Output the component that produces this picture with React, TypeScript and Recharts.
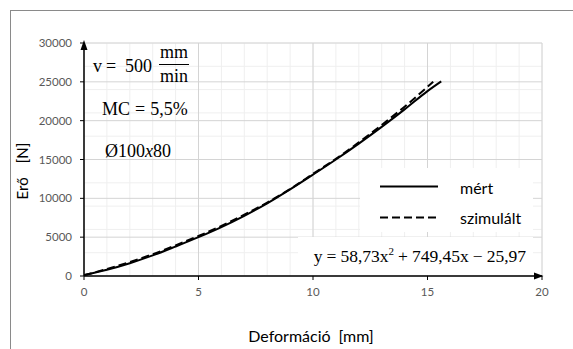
import React from 'react';
import { LineChart, Line, XAxis, YAxis, CartesianGrid, ReferenceDot } from 'recharts';

const mertX = [0, 1, 2, 3, 4, 5, 6, 7, 8, 9, 10, 11, 12, 13, 14, 15, 15.6];
const mertY = [120, 800, 1650, 2650, 3800, 5000, 6300, 7750, 9350, 11150, 13050, 15000, 17050, 19200, 21450, 23800, 25050];
const szimX = [0, 1, 2, 3, 4, 5, 6, 7, 8, 9, 10, 11, 12, 13, 14, 15, 15.25];
const szimY = [100, 900, 1800, 2800, 3950, 5150, 6450, 7900, 9450, 11200, 13150, 15100, 17200, 19450, 21800, 24350, 25000];

const xTicks = [0, 5, 10, 15, 20];
const yTicks = [0, 5000, 10000, 15000, 20000, 25000, 30000];
const xMinor = [0, 1, 2, 3, 4, 5, 6, 7, 8, 9, 10, 11, 12, 13, 14, 15, 16, 17, 18, 19, 20];
const yMinor = [0, 1000, 2000, 3000, 4000, 5000, 6000, 7000, 8000, 9000, 10000, 11000, 12000, 13000, 14000, 15000, 16000, 17000, 18000, 19000, 20000, 21000, 22000, 23000, 24000, 25000, 26000, 27000, 28000, 29000, 30000];

const seriesNames = ['mért', 'szimulált'];
const xLabel = 'Deformáció';
const xUnit = '[mm]';
const yLabel = 'Erő';
const yUnit = '[N]';

const mertData = mertX.map((x, i) => ({ x, y: mertY[i] }));
const szimData = szimX.map((x, i) => ({ x, y: szimY[i] }));

const sans = 'Lato, "Open Sans", sans-serif';
const serif = '"Liberation Serif", "DejaVu Serif", serif';

const YArrow = (p: any) => (
  <path d={`M${p.cx},${p.cy - 3} L${p.cx - 3.5},${p.cy + 7} L${p.cx + 3.5},${p.cy + 7} Z`} fill="#000" />
);
const XArrow = (p: any) => (
  <path d={`M${p.cx + 1.5},${p.cy} L${p.cx - 8},${p.cy - 3.5} L${p.cx - 8},${p.cy + 3.5} Z`} fill="#000" />
);

export default function App() {
  return (
    <div style={{ position: 'absolute', left: 0, top: 0, width: 573, height: 349, background: '#fff', overflow: 'hidden' }}>
      <div style={{ position: 'absolute', left: 10, top: 10, width: 700, height: 500, border: '1px solid #8a8a8a', boxSizing: 'border-box' }} />
      <div style={{ position: 'absolute', left: 0, top: 0 }}>
        <LineChart width={573} height={349} margin={{ top: 43, right: 31, bottom: 43, left: 0 }}>
          <CartesianGrid stroke="#efefef" verticalValues={xMinor} horizontalValues={yMinor} fill="none" />
          <CartesianGrid stroke="#d4d4d4" verticalValues={xTicks} horizontalValues={yTicks} fill="none" />
          <XAxis
            type="number"
            dataKey="x"
            domain={[0, 20]}
            ticks={xTicks}
            allowDataOverflow
            axisLine={{ stroke: '#000', strokeWidth: 1.5 }}
            tickLine={{ stroke: '#000' }}
            tickSize={4}
            tickMargin={8}
            tick={{ fill: '#595959', fontSize: 11.5, fontFamily: sans }}
          />
          <YAxis
            type="number"
            dataKey="y"
            domain={[0, 30000]}
            ticks={yTicks}
            width={84}
            allowDataOverflow
            axisLine={{ stroke: '#000', strokeWidth: 1.5 }}
            tickLine={{ stroke: '#000' }}
            tickSize={4}
            tickMargin={8}
            tick={{ fill: '#595959', fontSize: 11.5, fontFamily: sans }}
          />
          <Line data={mertData} dataKey="y" type="monotone" stroke="#000" strokeWidth={2} dot={false} isAnimationActive={false} name={seriesNames[0]} />
          <Line data={szimData} dataKey="y" type="monotone" stroke="#000" strokeWidth={2} strokeDasharray="8 4" dot={false} isAnimationActive={false} name={seriesNames[1]} />
          <ReferenceDot x={0} y={30000} r={0} ifOverflow="visible" shape={YArrow} />
          <ReferenceDot x={20} y={0} r={0} ifOverflow="visible" shape={XArrow} />
        </LineChart>
      </div>
      <div style={{ position: 'absolute', left: 360, top: 168, width: 173, height: 64, background: '#fff' }} />
      <div style={{ position: 'absolute', left: 298, top: 237, width: 235, height: 38, background: '#fff' }} />
      <svg width={573} height={349} style={{ position: 'absolute', left: 0, top: 0 }}>
        <text x={93} y={72} fontFamily={serif} fontSize={18} fill="#000">v</text>
        <text x={106} y={72} fontFamily={serif} fontSize={18} fill="#000">=</text>
        <text x={125} y={72} fontFamily={serif} fontSize={18} fill="#000">500</text>
        <text x={174} y={58} fontFamily={serif} fontSize={18} fill="#000" textAnchor="middle">mm</text>
        <line x1={159} x2={189} y1={64.5} y2={64.5} stroke="#000" strokeWidth={1} />
        <text x={174} y={82} fontFamily={serif} fontSize={18} fill="#000" textAnchor="middle">min</text>
        <text x={102} y={114.5} fontFamily={serif} fontSize={18} fill="#000">MC<tspan dx={5}>=</tspan><tspan dx={5}>5,5%</tspan></text>
        <text x={105} y={157} fontFamily={serif} fontSize={18} fill="#000">
          Ø100<tspan fontStyle="italic">x</tspan>80
        </text>
        <line x1={380} x2={438} y1={186.5} y2={186.5} stroke="#000" strokeWidth={2} />
        <line x1={380} x2={438} y1={217.5} y2={217.5} stroke="#000" strokeWidth={2} strokeDasharray="8 4" />
        <text x={460} y={194} fontFamily={sans} fontSize={16} fill="#000">{seriesNames[0]}</text>
        <text x={460} y={224} fontFamily={sans} fontSize={16} fill="#000">{seriesNames[1]}</text>
        <text x={526} y={262} fontFamily={serif} fontSize={17.5} fill="#000" textAnchor="end">
          y<tspan dx={4}>=</tspan><tspan dx={4}>58,73x</tspan><tspan dy={-7} fontSize={11}>2</tspan><tspan dy={7} dx={4}>+</tspan><tspan dx={4}>749,45x</tspan><tspan dx={4}>−</tspan><tspan dx={4}>25,97</tspan>
        </text>
        <text x={311} y={342} fontFamily={sans} fontSize={16} fill="#000" textAnchor="middle">
          {xLabel}<tspan dx={8}>{xUnit}</tspan>
        </text>
        <text transform="translate(28,171) rotate(-90)" fontFamily={sans} fontSize={15} fill="#000" textAnchor="middle">
          {yLabel}<tspan dx={14}>{yUnit}</tspan>
        </text>
      </svg>
    </div>
  );
}
